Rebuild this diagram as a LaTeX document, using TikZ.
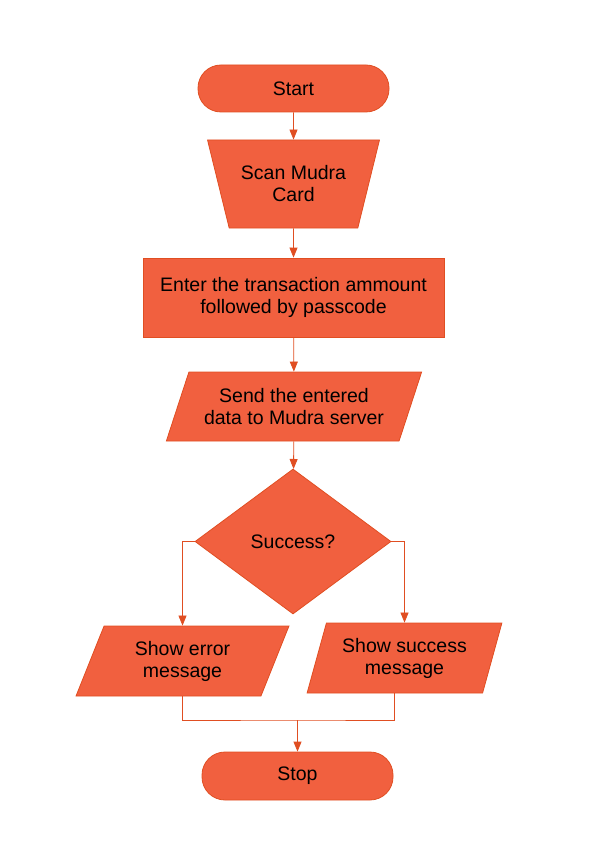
\documentclass[tikz,border=0pt]{standalone}
\usepackage{fontspec}
\setmainfont{Liberation Sans}
\usetikzlibrary{positioning,arrows.meta,calc}
\usetikzlibrary{shapes.geometric}
\definecolor{boxfill}{HTML}{F1603F}
\definecolor{boxline}{HTML}{E04E22}
\tikzset{box/.style={draw=boxline,fill=boxfill,line width=0.8pt,inner sep=0pt,align=center,
        font=\fontsize{19.5}{22}\selectfont},
    term/.style={box,rectangle,rounded corners=23pt,minimum width=191pt,minimum height=47pt},
    proc/.style={box,rectangle,minimum width=301pt,minimum height=79pt},
    manual/.style={box,trapezium,trapezium angle=64,shape border rotate=180,
        trapezium stretches=true,minimum width=172pt,minimum height=88pt},
    io/.style n args={3}{box,trapezium,trapezium left angle=#1,trapezium right angle=180-#1,
        trapezium stretches=true,minimum width=#2,minimum height=#3},
    dec/.style={box,diamond,minimum width=196pt,minimum height=145pt},
    flow/.style={draw=boxline,line width=0.8pt}
}

\begin{document}
\begin{tikzpicture}[x=1pt,y=-1pt,>={Triangle[length=10pt,width=8pt]}]
	\useasboundingbox (0,0) rectangle (595,842);
	\node[term] (Start) at (293.5,88.5) {Start};
	\node[manual] (Scan) at (293.5,184) {Scan Mudra\\Card};
	\node[proc] (Enter) at (293.5,297.5) {Enter the transaction ammount\\followed by passcode};
	\node[io={62}{256pt}{69pt}] (Send) at (294,406.5) {Send the entered\\data to Mudra server};
	\node[dec] (Dec) at (293,541.5) {Success?};
	\node[io={67}{213pt}{70pt}] (Err) at (182.5,661) {Show error\\message};
	\node[io={69}{195pt}{70pt}] (Succ) at (404.5,658) {Show success\\message};
	\node[term,minimum height=48pt] (Stop) at (297.5,776) {Stop};
	\coordinate (M) at (Stop.north |- 0,720);
	\coordinate (SB) at ($(Succ.bottom left corner)!0.5!(Succ.bottom right corner)$);

	\draw[flow,->] (Start) -- (Scan);
	\draw[flow,->] (Scan) -- (Enter);
	\draw[flow,->] (Enter) -- (Send);
	\draw[flow,->] (Send) -- (Dec);
	\draw[flow,->] (Dec.west) -| (Err.north);
	\draw[flow,->] (Dec.east) -| (Succ.north);
	\draw[flow] (Err.south) |- (M) -| (SB);
	\draw[flow,->] (M) -- (Stop);

\end{tikzpicture}
\end{document}
